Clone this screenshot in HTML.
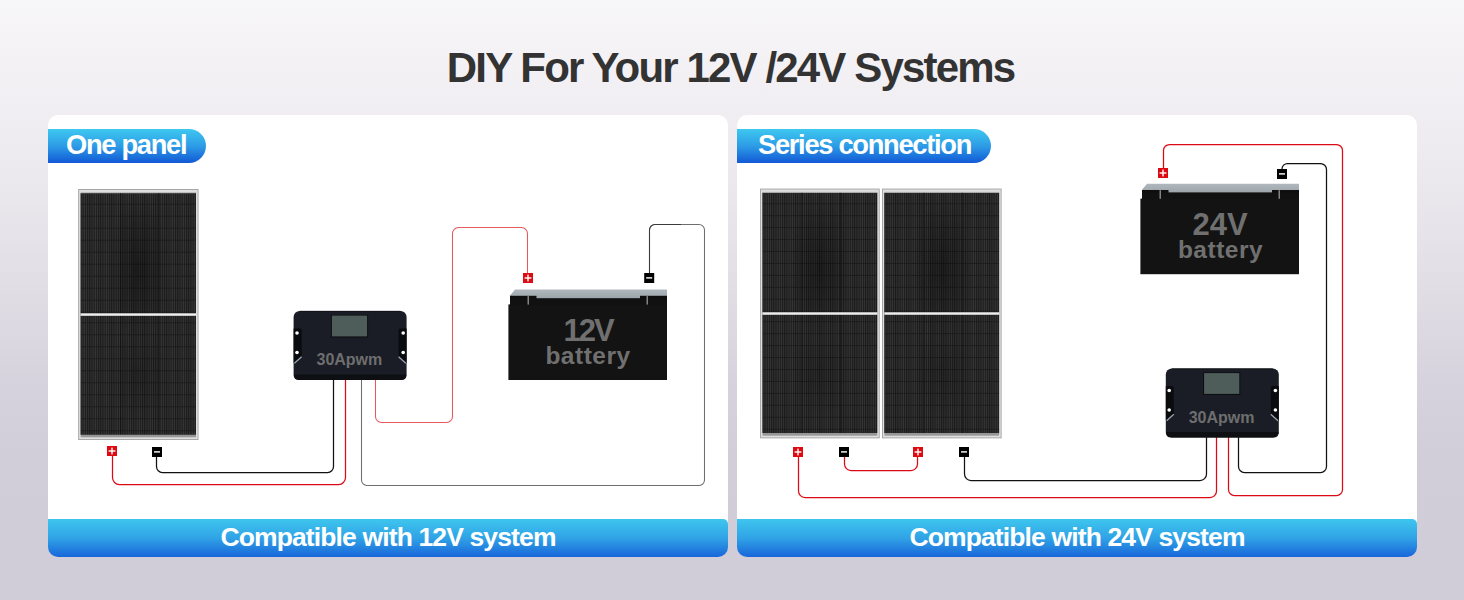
<!DOCTYPE html>
<html><head><meta charset="utf-8">
<style>
html,body{margin:0;padding:0}
body{width:1464px;height:600px;position:relative;overflow:hidden;
background:linear-gradient(180deg,#f7f6f8 0px,#eeebf0 150px,#e0dce4 300px,#d6d3de 380px,#d1ced9 450px,#d0cdd8 600px);
font-family:"Liberation Sans",sans-serif;font-weight:bold}
.title{position:absolute;left:-1.5px;width:1464px;top:47px;height:42px;line-height:42px;font-size:42px;letter-spacing:-1.85px;text-align:center;color:#333333;white-space:nowrap}
.card{position:absolute;top:115px;width:680px;height:442px;background:linear-gradient(180deg,#fff 0,#fff 415px,transparent 415px);border-radius:10px}
.tab{position:absolute;left:0;top:14px;height:34px;border-radius:0 17px 17px 0;background:linear-gradient(180deg,#3ec8f0 0%,#2d9ce6 50%,#1259d6 100%)}
.tab span{position:absolute;left:18px;top:2.5px;font-size:27.3px;line-height:26px;letter-spacing:-1.3px;color:#fff;white-space:nowrap}
.bar{position:absolute;left:0;top:404px;width:680px;height:38px;border-radius:0 5px 10px 10px;background:linear-gradient(180deg,#3ec6ee 0%,#30a3e6 50%,#1866da 100%)}
.bar span{position:absolute;left:0;width:680px;text-align:center;top:4.5px;font-size:26.5px;line-height:26px;letter-spacing:-0.87px;color:#fff;white-space:nowrap}
svg{position:absolute;left:0;top:0}
</style></head>
<body>
<div class="title">DIY For Your 12V /24V Systems</div>

<div class="card" style="left:48px">
  <div class="tab" style="width:158px"><span>One panel</span></div>
  <div class="bar"><span>Compatible with 12V system</span></div>
</div>
<div class="card" style="left:737px">
  <div class="tab" style="width:254px"><span style="left:21px">Series connection</span></div>
  <div class="bar"><span>Compatible with 24V system</span></div>
</div>

<svg width="1464" height="600" viewBox="0 0 1464 600">
<defs>
  <pattern id="cells" x="0" y="3.7" width="2.2" height="12" patternUnits="userSpaceOnUse">
    <rect x="0" y="0" width="2.2" height="12" fill="#1b1b1b"/>
    <rect x="1.2" y="0" width="0.85" height="12" fill="#3c3c3c"/>
    <rect x="0" y="11.3" width="2.2" height="0.7" fill="#161616"/>
  </pattern>
  <pattern id="cells2" x="0" y="2.3" width="2.2" height="12" patternUnits="userSpaceOnUse">
    <rect x="0" y="0" width="2.2" height="12" fill="#1b1b1b"/>
    <rect x="1.2" y="0" width="0.85" height="12" fill="#3c3c3c"/>
    <rect x="0" y="11.3" width="2.2" height="0.7" fill="#161616"/>
  </pattern>
  <radialGradient id="blot" cx="0.5" cy="0.5" r="0.5">
    <stop offset="0" stop-color="#000" stop-opacity="0.35"/>
    <stop offset="1" stop-color="#000" stop-opacity="0"/>
  </radialGradient>
  <g id="panel">
    <rect x="0" y="0" width="120.3" height="251" fill="#a2a2a2"/>
    <rect x="0.9" y="0.9" width="118.5" height="249.2" fill="#dedede"/>
    <rect x="2.5" y="4.2" width="115.3" height="241.6" fill="#1d1d1d"/>
    <rect x="2.5" y="4.2" width="115.3" height="120" fill="url(#cells)"/>
    <rect x="2.5" y="127" width="115.3" height="118.8" fill="url(#cells2)"/>
    <rect x="2.5" y="3.3" width="115.3" height="0.9" fill="#b0b0b0"/>
    <rect x="41.8" y="4.2" width="0.9" height="241.6" fill="#151515"/>
    <rect x="80.2" y="4.2" width="0.9" height="241.6" fill="#151515"/>
    <ellipse cx="60" cy="80" rx="30" ry="75" fill="url(#blot)"/>
    <ellipse cx="60" cy="185" rx="28" ry="50" fill="url(#blot)" opacity="0.5"/>
    <rect x="2.5" y="124.3" width="115.3" height="2.5" fill="#efefef"/>
    <rect x="2.5" y="245.8" width="115.3" height="2.5" fill="#969696"/>
  </g>
  <g id="plus">
    <rect x="0" y="0" width="10" height="10" fill="#dd0a12"/>
    <rect x="1.6" y="4.3" width="6.8" height="1.4" fill="#fff"/>
    <rect x="4.3" y="1.6" width="1.4" height="6.8" fill="#fff"/>
  </g>
  <g id="minus">
    <rect x="0" y="0" width="10" height="10" fill="#000"/>
    <rect x="2" y="4.2" width="6" height="1.4" fill="#fff"/>
  </g>
  <linearGradient id="lid" x1="0" y1="0" x2="0" y2="1"><stop offset="0" stop-color="#b0b8bd"/><stop offset="1" stop-color="#9aa3a9"/></linearGradient>
  <g id="battery">
    <polygon points="6,0 158,0 158,9.5 1,9.5 1,6" fill="url(#lid)"/>
    <rect x="1" y="6.2" width="26.5" height="9.5" fill="#0e0e0e"/>
    <rect x="131" y="6.2" width="27" height="9.5" fill="#0e0e0e"/>
    <rect x="1" y="8.6" width="157" height="7" fill="#111"/>
    <rect x="-0.6" y="14.8" width="158.6" height="75.6" fill="#131313"/>
    <rect x="18.6" y="6.4" width="1.2" height="8.6" fill="#a0a0a0"/>
    <rect x="137.6" y="6.4" width="1.2" height="8.6" fill="#a0a0a0"/>
  </g>
  <g id="ctrl">
    <rect x="0" y="0" width="113" height="69" rx="6" fill="#1a1d25"/>
    <path d="M0 63.5 H113 V63.5 Q113 69 107.5 69 H5.5 Q0 69 0 63.5Z" fill="#0d0f13"/>
    <path d="M6 0.3 H107" stroke="#0e1014" stroke-width="0.8"/>
    <rect x="37.3" y="3.8" width="37.2" height="22.6" fill="#0c0e12"/>
    <rect x="38.3" y="4.6" width="35.2" height="20.8" fill="#4e5d59"/>
    <path d="M0 17.5 H6.5 Q8 17.5 8 19 V45.5 L1 52 H0Z" fill="#0a0b0e"/>
    <path d="M8 45.8 L0.8 52.3" stroke="#9aa6b4" stroke-width="1.3"/>
    <path d="M113 17.5 H106.5 Q105 17.5 105 19 V45.5 L112 52 H113Z" fill="#0a0b0e"/>
    <path d="M105 45.8 L112.2 52.3" stroke="#9aa6b4" stroke-width="1.3"/>
    <circle cx="3.4" cy="22" r="1.8" fill="#fff"/>
    <circle cx="3.4" cy="41.5" r="1.8" fill="#fff"/>
    <circle cx="109.6" cy="22" r="1.8" fill="#fff"/>
    <circle cx="109.6" cy="41.5" r="1.8" fill="#fff"/>
    <text x="55.8" y="54" text-anchor="middle" font-family="Liberation Sans" font-weight="bold" font-size="16" fill="#6e6e6e">30Apwm</text>
  </g>
</defs>

<use href="#panel" x="78.2" y="189"/>
<use href="#panel" transform="translate(760.1 188.6) scale(0.994 0.995)"/>
<use href="#panel" transform="translate(882 188.6) scale(0.994 0.995)"/>
<g fill="none" id="wires">
  <path d="M112.50 456.00 L112.50 477.50 A7.00 7.00 0 0 0 119.50 484.50 L338.50 484.50 A7.00 7.00 0 0 0 345.50 477.50 L345.50 379.00" stroke="#dc0a14" stroke-width="1.25"/>
  <path d="M156.50 457.00 L156.50 466.50 A6.00 6.00 0 0 0 162.50 472.50 L327.50 472.50 A6.00 6.00 0 0 0 333.50 466.50 L333.50 379.00" stroke="#111111" stroke-width="1.25"/>
  <path d="M361.50 379.00 L361.50 480.00 A5.50 5.50 0 0 0 367.00 485.50 L699.00 485.50 A5.50 5.50 0 0 0 704.50 480.00 L704.50 230.00 A5.50 5.50 0 0 0 699.00 224.50 L655.00 224.50 A5.50 5.50 0 0 0 649.50 230.00 L649.50 273.00" stroke="#6e6e6e" stroke-width="1.05"/>
  <path d="M375.50 379.00 L375.50 416.50 A6.00 6.00 0 0 0 381.50 422.50 L446.50 422.50 A6.00 6.00 0 0 0 452.50 416.50 L452.50 233.50 A6.00 6.00 0 0 1 458.50 227.50 L521.50 227.50 A6.00 6.00 0 0 1 527.50 233.50 L527.50 273.00" stroke="#e65a5e" stroke-width="1.05"/>
  <path d="M798.50 457.00 L798.50 491.00 A6.50 6.50 0 0 0 805.00 497.50 L1210.00 497.50 A6.50 6.50 0 0 0 1216.50 491.00 L1216.50 437.00" stroke="#dc0a14" stroke-width="1.25"/>
  <path d="M964.50 457.00 L964.50 474.00 A6.50 6.50 0 0 0 971.00 480.50 L1200.00 480.50 A6.50 6.50 0 0 0 1206.50 474.00 L1206.50 437.00" stroke="#111111" stroke-width="1.25"/>
  <path d="M844.50 457.00 L844.50 464.00 A6.50 6.50 0 0 0 851.00 470.50 L911.00 470.50 A6.50 6.50 0 0 0 917.50 464.00 L917.50 457.00" stroke="#dc0a14" stroke-width="1.25"/>
  <path d="M1228.50 437.00 L1228.50 489.50 A6.00 6.00 0 0 0 1234.50 495.50 L1336.50 495.50 A6.00 6.00 0 0 0 1342.50 489.50 L1342.50 150.50 A6.00 6.00 0 0 0 1336.50 144.50 L1169.50 144.50 A6.00 6.00 0 0 0 1163.50 150.50 L1163.50 168.00" stroke="#dc0a14" stroke-width="1.25"/>
  <path d="M1238.50 437.00 L1238.50 466.50 A6.00 6.00 0 0 0 1244.50 472.50 L1320.50 472.50 A6.00 6.00 0 0 0 1326.50 466.50 L1326.50 169.50 A6.00 6.00 0 0 0 1320.50 163.50 L1287.50 163.50 A5.50 5.50 0 0 0 1282.00 169.00 L1282.00 169.00" stroke="#111111" stroke-width="1.25"/>
  <path d="M649.50 273.00 L649.50 230.00 A5.50 5.50 0 0 1 655.00 224.50 L681.00 224.50" stroke="#3a3a3a" stroke-width="1.05"/>
</g>

<!-- LEFT CARD -->
<use href="#plus" x="107" y="446"/>
<use href="#minus" x="152" y="447"/>
<use href="#ctrl" x="293.6" y="311"/>
<use href="#battery" x="509" y="289.6"/>
<use href="#plus" x="523" y="273"/>
<use href="#minus" x="644.2" y="273"/>
<text x="588" y="340.6" text-anchor="middle" font-family="Liberation Sans" font-weight="bold" font-size="31" fill="#707070" letter-spacing="-2">12V</text>
<text x="588" y="363.5" text-anchor="middle" font-family="Liberation Sans" font-weight="bold" font-size="24.5" fill="#707070" letter-spacing="0.5">battery</text>

<!-- RIGHT CARD -->
<use href="#plus" x="793" y="447"/>
<use href="#minus" x="839" y="447"/>
<use href="#plus" x="913" y="447"/>
<use href="#minus" x="959" y="447"/>
<use href="#ctrl" x="1165.8" y="368.5"/>
<use href="#battery" x="1141" y="183.8"/>
<use href="#plus" x="1158" y="168"/>
<use href="#minus" x="1277" y="169"/>
<text x="1220" y="235" text-anchor="middle" font-family="Liberation Sans" font-weight="bold" font-size="31" fill="#707070">24V</text>
<text x="1220.5" y="258" text-anchor="middle" font-family="Liberation Sans" font-weight="bold" font-size="24.5" fill="#707070" letter-spacing="0.5">battery</text>
</svg>
</body></html>
